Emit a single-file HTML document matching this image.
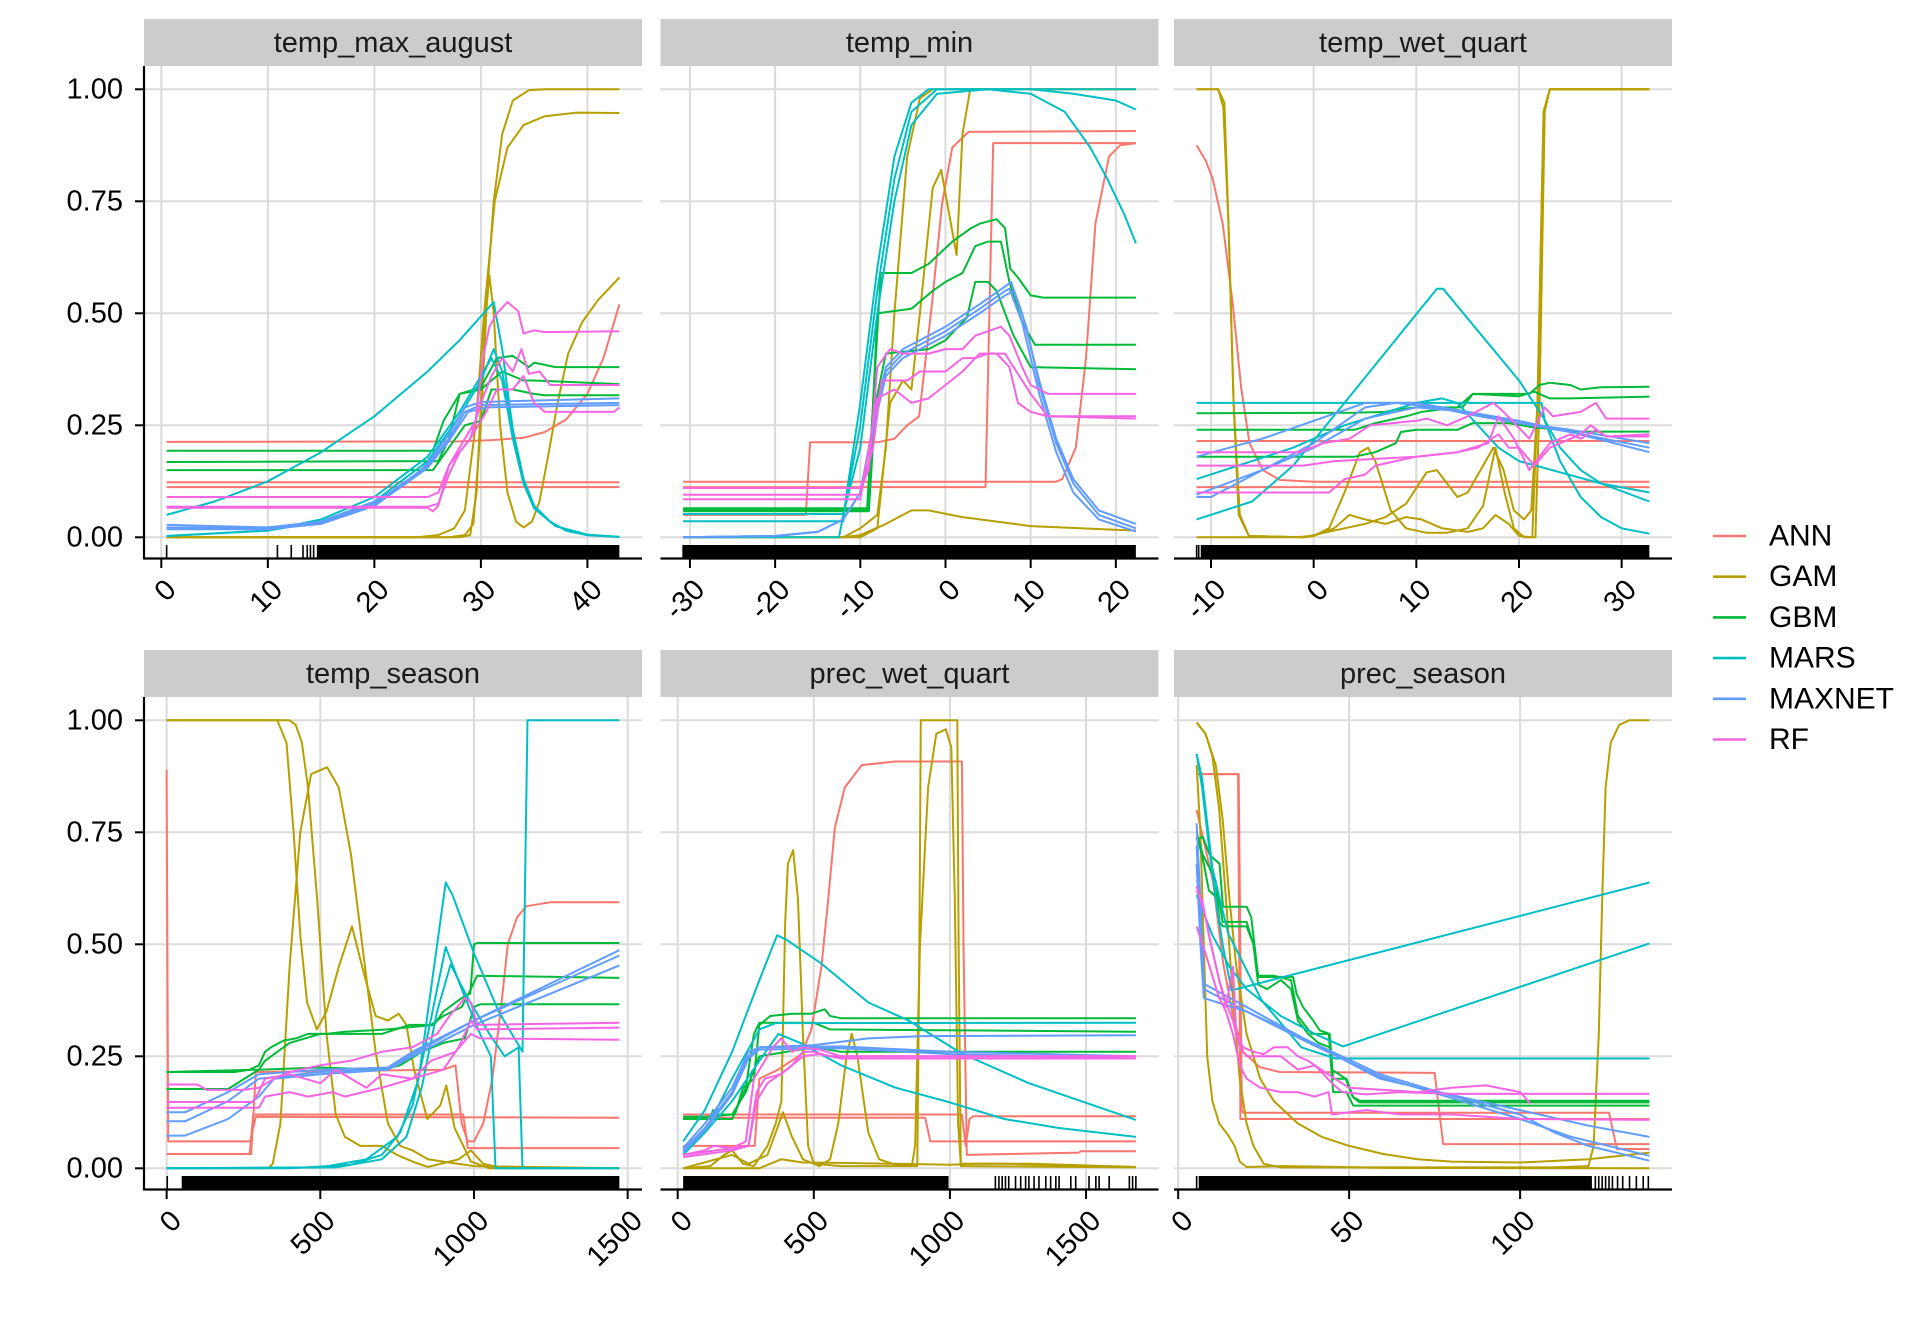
<!DOCTYPE html>
<html><head><meta charset="utf-8"><style>
html,body{margin:0;padding:0;background:#fff;}
svg{display:block;font-family:"Liberation Sans",Arial,sans-serif;}
</style></head><body>
<svg id="chart" width="1920" height="1344" viewBox="0 0 1920 1344" xmlns="http://www.w3.org/2000/svg">
<rect x="0" y="0" width="1920" height="1344" fill="#ffffff"/>
<g id="legend"></g>
</svg>
<script>
// ---------- data ----------
const MODELS = ["ANN","GAM","GBM","MARS","MAXNET","RF"];
const COLORS = ["#F8766D","#B79F00","#00BA38","#00BFC4","#619CFF","#F564E3"];
const Y_TICKS = [0,0.25,0.5,0.75,1];
const Y_LABELS = ["0.00","0.25","0.50","0.75","1.00"];

const P1_NAME = "temp_max_august";
const P1_RANGE = [0.5,43];
const P1_TICKS = [0,10,20,30,40];
const P1_RUG_DENSE = [14.6,43];
const P1_RUG = [0.5,10.9,12.2,13.3,13.7,14.0,14.3];
const P1_ANN = [[[0.5,0.213],[28,0.214],[31,0.217],[34,0.222],[36,0.235],[38,0.263],[40,0.32],[41.5,0.4],[43,0.52]],[[0.5,0.123],[43,0.123]],[[0.5,0.112],[43,0.112]]];
const P1_GAM = [[[0.5,0],[27,0],[28.5,0.005],[29.3,0.03],[30,0.25],[30.6,0.55],[31.2,0.75],[32,0.9],[33,0.975],[34.5,0.998],[36,1],[43,1]],
[[0.5,0],[24,0],[26,0.005],[27.5,0.02],[28.5,0.06],[29.5,0.25],[30.3,0.5],[31.3,0.75],[32.5,0.87],[34,0.92],[36,0.94],[39,0.948],[43,0.947]],
[[0.5,0],[28,0],[29,0.005],[29.6,0.1],[30.3,0.45],[30.8,0.585],[31.2,0.5],[31.8,0.25],[32.5,0.1],[33.3,0.035],[34,0.022],[34.8,0.035],[35.5,0.08],[36.3,0.18],[37.2,0.3],[38.2,0.41],[39.5,0.48],[41,0.53],[43,0.58]]];
const P1_GBM = [[[0.5,0.193],[25.5,0.193],[26.5,0.26],[28,0.32],[30,0.335],[31.5,0.4],[33,0.405],[34.5,0.38],[35,0.39],[37,0.38],[43,0.38]],
[[0.5,0.168],[26,0.17],[27,0.22],[28,0.32],[30,0.33],[32,0.37],[34,0.35],[35,0.35],[43,0.342]],
[[0.5,0.15],[25.5,0.15],[27,0.2],[28.5,0.25],[30,0.26],[31,0.33],[33,0.33],[35,0.32],[36,0.317],[43,0.317]]];
const P1_MARS = [[[0.5,0.05],[5,0.08],[10,0.125],[15,0.19],[20,0.27],[25,0.37],[28,0.44],[31.2,0.525],[32,0.42],[33,0.24],[34,0.13],[35,0.07],[36.5,0.035],[38,0.015],[40,0.005],[43,0.001]],
[[0.5,0.003],[10,0.015],[15,0.035],[20,0.08],[25,0.17],[28,0.27],[30,0.35],[31.2,0.42],[32,0.37],[33,0.24],[34,0.13],[35,0.07],[36.5,0.035],[38,0.015],[40,0.005],[43,0.001]],
[[0.5,0.003],[10,0.015],[15,0.04],[20,0.09],[25,0.18],[28,0.28],[30,0.36],[31,0.4],[32,0.35],[33,0.22],[34,0.12],[35,0.065],[37,0.025],[40,0.006],[43,0.001]]];
const P1_MAXNET = [[[0.5,0.028],[5,0.025],[10,0.022],[15,0.035],[20,0.08],[23,0.12],[25,0.165],[27,0.23],[28.5,0.29],[30,0.302],[43,0.31]],
[[0.5,0.022],[10,0.02],[15,0.032],[20,0.075],[25,0.16],[27,0.22],[28.5,0.28],[30,0.295],[43,0.3]],
[[0.5,0.018],[10,0.018],[15,0.03],[20,0.07],[25,0.155],[27,0.215],[28.8,0.28],[30.5,0.29],[43,0.295]]];
const P1_RF = [[[0.5,0.09],[25,0.09],[26,0.1],[27,0.16],[28,0.2],[29.5,0.26],[30.2,0.4],[30.8,0.47],[31.5,0.5],[32.5,0.525],[33.5,0.505],[34,0.455],[35,0.462],[36,0.458],[43,0.46]],
[[0.5,0.068],[25,0.068],[26,0.075],[27,0.14],[28,0.19],[29,0.22],[30,0.3],[31,0.36],[32,0.4],[33,0.37],[33.8,0.42],[34.5,0.365],[35.5,0.37],[36.5,0.34],[43,0.34]],
[[0.5,0.066],[25,0.066],[25.5,0.058],[26,0.07],[27,0.16],[29,0.22],[30.5,0.28],[31.5,0.33],[33,0.33],[34,0.36],[35,0.3],[36,0.28],[42.5,0.28],[43,0.29]]];

const P2_NAME = "temp_min";
const P2_RANGE = [-30.8,22.35];
const P2_TICKS = [-30,-20,-10,0,10,20];
const P2_RUG_DENSE = [-30.8,22.35];
const P2_RUG = [-30.8];
const P2_ANN = [[[-30.8,0.05],[-16.4,0.05],[-15.9,0.212],[-8,0.212],[-6,0.22],[-4.5,0.25],[-3.1,0.27],[-1.6,0.52],[-0.4,0.745],[0.8,0.87],[2.7,0.905],[22.35,0.907]],
[[-30.8,0.124],[13,0.124],[13.7,0.13],[15.3,0.2],[16.5,0.4],[17.6,0.7],[19.2,0.85],[20.5,0.875],[22.35,0.88]],
[[-30.8,0.112],[4.7,0.112],[5.6,0.88],[22.35,0.88]]];
const P2_GAM = [[[-30.8,0],[-12,0],[-10,0.02],[-8,0.05],[-7,0.2],[-6,0.5],[-4.5,0.85],[-3,0.98],[-1.5,1],[22.35,1]],
[[-30.8,0],[-10,0],[-8,0.02],[-6.5,0.3],[-5,0.35],[-4,0.33],[-3,0.5],[-1.5,0.78],[-0.5,0.82],[1.3,0.63],[2,0.9],[2.9,1],[22.35,1]],
[[-30.8,0],[-12,0],[-10,0.005],[-7,0.03],[-4,0.06],[-2,0.06],[2,0.045],[10,0.025],[22.35,0.015]]];
const P2_GBM = [[[-30.8,0.065],[-9.2,0.065],[-8.5,0.3],[-7.6,0.59],[-4,0.59],[-2,0.61],[0.8,0.66],[3,0.69],[4,0.7],[6,0.71],[7,0.69],[7.6,0.6],[8.5,0.58],[10,0.54],[11.5,0.535],[22.35,0.535]],
[[-30.8,0.062],[-9,0.062],[-8.5,0.3],[-8,0.5],[-4,0.51],[-1.5,0.55],[0,0.57],[2,0.59],[3.5,0.65],[5,0.66],[6.5,0.66],[7.5,0.57],[9,0.48],[10.5,0.43],[22.35,0.43]],
[[-30.8,0.058],[-9,0.058],[-8.2,0.3],[-7,0.41],[-2,0.42],[0,0.44],[1,0.46],[2.5,0.49],[3.5,0.57],[5,0.57],[6,0.55],[8,0.45],[10,0.38],[22.35,0.375]]];
const P2_MARS = [[[-30.8,0.036],[-12,0.036],[-11.6,0.1],[-10,0.3],[-8,0.6],[-6,0.85],[-4,0.97],[-2,1],[22.35,1]],
[[-30.8,0],[-12.5,0],[-10,0.25],[-8,0.55],[-6,0.8],[-4,0.95],[-1,1],[10,1],[15,0.99],[20,0.975],[22.35,0.955]],
[[-30.8,0.052],[-12,0.052],[-10,0.2],[-8,0.5],[-6,0.75],[-4,0.92],[-1,0.99],[5,1],[10,0.99],[14,0.95],[17,0.87],[19,0.8],[21,0.72],[22.35,0.656]]];
const P2_MAXNET = [[[-30.8,0],[-20,0.003],[-15,0.012],[-12,0.04],[-10,0.1],[-8,0.3],[-7,0.38],[-5,0.42],[0,0.47],[4,0.52],[7,0.56],[7.7,0.57],[9,0.5],[11,0.35],[13,0.22],[15,0.13],[18,0.06],[22.35,0.03]],
[[-30.8,0],[-20,0.003],[-15,0.012],[-12,0.04],[-10,0.1],[-8,0.29],[-7,0.37],[-5,0.41],[0,0.46],[4,0.51],[7,0.55],[7.5,0.555],[9,0.48],[11,0.32],[13,0.19],[15,0.1],[18,0.04],[22.35,0.013]],
[[-30.8,0],[-20,0.003],[-15,0.012],[-12,0.04],[-10,0.1],[-8,0.28],[-7,0.36],[-5,0.4],[0,0.45],[4,0.5],[7,0.54],[8,0.55],[9.5,0.47],[11,0.34],[13,0.21],[15,0.12],[18,0.05],[22.35,0.02]]];
const P2_RF = [[[-30.8,0.11],[-10,0.11],[-9,0.15],[-8,0.38],[-6.5,0.42],[-5,0.41],[-2,0.41],[0,0.42],[2,0.42],[3.5,0.45],[5,0.46],[6.5,0.47],[7.5,0.45],[9,0.38],[10,0.34],[12,0.32],[22.35,0.32]],
[[-30.8,0.095],[-10,0.095],[-8.5,0.2],[-7.5,0.35],[-6,0.35],[-4.5,0.35],[-3,0.37],[0,0.37],[2,0.4],[3.5,0.4],[5,0.41],[7,0.41],[8,0.38],[10,0.32],[12,0.27],[22.35,0.27]],
[[-30.8,0.085],[-10,0.085],[-8,0.31],[-6,0.33],[-4,0.3],[-2,0.31],[0,0.34],[2,0.37],[4,0.41],[6,0.41],[7.5,0.38],[8.5,0.3],[10,0.28],[12,0.27],[22.35,0.265]]];

const P3_NAME = "temp_wet_quart";
const P3_RANGE = [-11.4,32.7];
const P3_TICKS = [-10,0,10,20,30];
const P3_RUG_DENSE = [-11.0,32.7];
const P3_RUG = [-11.4,-11.2];
const P3_ANN = [[[-11.4,0.875],[-10.5,0.84],[-9.84,0.8],[-8.86,0.7],[-7.88,0.52],[-7.07,0.335],[-6.25,0.21],[-4.95,0.15],[-3.3,0.128],[0,0.124],[32.7,0.124]],[[-11.4,0.215],[32.7,0.215]],[[-11.4,0.112],[32.7,0.112]]];
const P3_GAM = [[[-11.4,1],[-9.3,1],[-8.8,0.96],[-8.3,0.7],[-7.8,0.3],[-7.2,0.05],[-6.3,0.003],[-1,0],[0,0.003],[1.5,0.02],[3,0.1],[4.5,0.19],[5.3,0.2],[6,0.17],[7.5,0.06],[9,0.02],[11,0.01],[13,0.01],[15,0.02],[16.5,0.07],[17.7,0.2],[18.6,0.1],[19.5,0.02],[20.5,0],[21.6,0],[22,0.3],[22.5,0.95],[23,1],[32.7,1]],
[[-11.4,1],[-9.3,1],[-8.7,0.97],[-8.3,0.7],[-7.8,0.3],[-7.3,0.05],[-6.3,0.003],[-1,0],[1,0.01],[3,0.02],[5,0.03],[7,0.045],[9,0.075],[11,0.145],[12,0.15],[13,0.12],[14,0.09],[15,0.1],[16.5,0.16],[17.5,0.2],[18.5,0.15],[19.5,0.06],[20.5,0.04],[21.2,0.06],[21.8,0.3],[22.4,0.95],[23,1],[32.7,1]],
[[-11.4,0],[-2,0],[0,0.003],[2,0.02],[3.5,0.05],[5,0.04],[7,0.03],[9,0.045],[10.5,0.04],[12.5,0.02],[15,0.012],[16.5,0.02],[17.7,0.05],[19,0.03],[20,0.003],[21.3,0],[21.8,0.3],[22.4,0.95],[23,1],[32.7,1]]];
const P3_GBM = [[[-11.4,0.277],[4,0.278],[7,0.28],[8,0.285],[10,0.29],[13,0.29],[14.5,0.29],[15.5,0.32],[20,0.32],[21,0.32],[22,0.34],[23,0.345],[25,0.34],[26,0.33],[28,0.335],[32.7,0.336]],
[[-11.4,0.24],[4,0.24],[6,0.255],[9,0.27],[10.5,0.28],[14,0.29],[15.5,0.32],[20,0.315],[21.5,0.325],[23,0.31],[25,0.31],[32.7,0.314]],
[[-11.4,0.18],[4,0.18],[6,0.19],[8,0.21],[8.5,0.235],[10,0.24],[14,0.24],[15.5,0.255],[19,0.255],[21.5,0.245],[24,0.24],[26,0.236],[32.7,0.236]]];
const P3_MARS = [[[-11.4,0.3],[22.2,0.3],[22.5,0.26],[24,0.17],[26,0.09],[28,0.045],[30,0.02],[32.7,0.008]],
[[-11.4,0.04],[-6,0.08],[-2,0.16],[3,0.3],[12,0.555],[12.6,0.555],[20,0.35],[22.3,0.27],[24,0.2],[26,0.15],[28,0.12],[32.7,0.08]],
[[-11.4,0.13],[-2,0.2],[3,0.25],[10,0.3],[12.5,0.31],[14,0.3],[16,0.25],[18,0.2],[20,0.17],[24,0.145],[28,0.12],[32.7,0.1]]];
const P3_MAXNET = [[[-11.4,0.18],[-5,0.22],[0,0.26],[5,0.3],[10,0.3],[15,0.28],[20,0.255],[25,0.235],[32.7,0.2]],
[[-11.4,0.09],[-10,0.09],[-5,0.15],[0,0.21],[5,0.29],[8,0.3],[12,0.29],[15,0.275],[20,0.255],[25,0.24],[32.7,0.21]],
[[-11.4,0.095],[-5,0.15],[0,0.2],[5,0.265],[10,0.29],[15,0.28],[20,0.26],[25,0.235],[32.7,0.19]]];
const P3_RF = [[[-11.4,0.19],[-1.5,0.19],[1,0.21],[3.5,0.22],[5.5,0.25],[10,0.26],[11,0.265],[13,0.25],[15,0.27],[17.5,0.3],[18.5,0.28],[21,0.22],[22.5,0.29],[23.3,0.27],[26,0.28],[27.5,0.3],[28.5,0.265],[32.7,0.265]],
[[-11.4,0.16],[-1,0.16],[2,0.17],[6,0.175],[10,0.18],[14,0.19],[17,0.21],[18,0.27],[19.5,0.22],[21,0.15],[22,0.18],[23,0.21],[25,0.23],[26,0.22],[27.5,0.24],[28.5,0.225],[32.7,0.225]],
[[-11.4,0.1],[1.5,0.1],[3,0.13],[5,0.14],[6,0.16],[10,0.18],[14,0.19],[16,0.2],[18,0.23],[19,0.2],[20,0.2],[21.5,0.16],[23,0.2],[26,0.23],[27,0.25],[28.5,0.225],[32.7,0.23]]];

const P4_NAME = "temp_season";
const P4_RANGE = [0,1473];
const P4_TICKS = [0,500,1000,1500];
const P4_RUG_DENSE = [49,1473];
const P4_RUG = [2];
const P4_ANN = [[[0,0.89],[5,0.06],[272,0.06],[290,0.115],[1473,0.113]],
[[0,0.032],[270,0.032],[282,0.12],[965,0.12],[980,0.045],[1473,0.045]],
[[0,0.032],[275,0.032],[290,0.215],[900,0.22],[940,0.23],[960,0.1],[980,0.06],[1000,0.06],[1030,0.1],[1060,0.2],[1090,0.37],[1110,0.5],[1140,0.56],[1170,0.585],[1250,0.594],[1473,0.594]]];
const P4_GAM = [[[0,1],[360,1],[390,0.95],[413,0.75],[435,0.52],[457,0.37],[489,0.31],[520,0.35],[560,0.45],[603,0.54],[640,0.44],[680,0.34],[720,0.33],[755,0.345],[780,0.32],[805,0.22],[848,0.11],[890,0.14],[910,0.185],[937,0.09],[990,0.015],[1050,0],[1473,0]],
[[0,0],[330,0],[345,0.01],[370,0.1],[400,0.45],[435,0.75],[470,0.88],[522,0.895],[560,0.85],[600,0.7],[640,0.48],[680,0.26],[720,0.1],[760,0.05],[800,0.04],[850,0.02],[900,0.015],[1000,0.005],[1473,0]],
[[0,1],[400,1],[420,0.99],[440,0.95],[460,0.85],[490,0.6],[520,0.3],[550,0.12],[580,0.07],[630,0.05],[700,0.05],[750,0.03],[800,0.015],[850,0.003],[950,0.02],[990,0.04],[1030,0.01],[1100,0],[1473,0]]];
const P4_GBM = [[[0,0.215],[220,0.215],[270,0.22],[300,0.23],[320,0.26],[340,0.27],[380,0.285],[420,0.29],[460,0.3],[520,0.3],[580,0.305],[720,0.31],[870,0.32],[900,0.35],[960,0.38],[988,0.39],[1000,0.5],[1010,0.503],[1473,0.503]],
[[0,0.215],[300,0.22],[320,0.24],[340,0.25],[400,0.28],[500,0.3],[700,0.3],[790,0.32],[860,0.32],[900,0.34],[960,0.36],[990,0.4],[1010,0.43],[1473,0.425]],
[[0,0.177],[200,0.177],[300,0.22],[500,0.225],[700,0.22],[760,0.23],[830,0.26],[900,0.28],[970,0.29],[1000,0.36],[1020,0.366],[1473,0.366]]];
const P4_MARS = [[[0,0],[400,0],[600,0.008],[700,0.03],[760,0.08],[820,0.2],[860,0.4],[908,0.638],[930,0.61],[1000,0.48],[1080,0.35],[1158,0.26],[1174,1],[1473,1]],
[[0,0],[500,0.002],[650,0.02],[750,0.07],[800,0.14],[850,0.3],[908,0.494],[960,0.4],[1020,0.3],[1055,0.25],[1070,0],[1473,0]],
[[0,0],[550,0.002],[700,0.02],[780,0.07],[830,0.18],[880,0.35],[924,0.455],[980,0.38],[1050,0.3],[1100,0.25],[1145,0.27],[1158,0],[1473,0]]];
const P4_MAXNET = [[[0,0.125],[60,0.125],[200,0.17],[300,0.21],[500,0.22],[720,0.225],[800,0.26],[1000,0.33],[1473,0.487]],
[[0,0.105],[60,0.105],[200,0.15],[300,0.2],[500,0.215],[720,0.22],[800,0.255],[1000,0.33],[1473,0.475]],
[[0,0.073],[60,0.073],[200,0.11],[300,0.16],[350,0.2],[500,0.21],[720,0.22],[800,0.25],[1000,0.32],[1473,0.453]]];
const P4_RF = [[[0,0.187],[100,0.187],[130,0.175],[250,0.175],[300,0.18],[350,0.2],[400,0.215],[500,0.23],[600,0.24],[700,0.26],[800,0.27],[880,0.3],[920,0.34],[970,0.38],[990,0.37],[1010,0.32],[1473,0.325]],
[[0,0.148],[280,0.148],[300,0.17],[320,0.2],[400,0.21],[450,0.2],[500,0.19],[550,0.22],[650,0.18],[700,0.21],[800,0.2],[850,0.21],[900,0.22],[950,0.27],[990,0.33],[1010,0.31],[1473,0.314]],
[[0,0.135],[300,0.135],[320,0.16],[400,0.17],[460,0.16],[540,0.17],[580,0.16],[640,0.17],[700,0.18],[800,0.2],[860,0.24],[940,0.26],[990,0.3],[1020,0.29],[1473,0.287]]];

const P5_NAME = "prec_wet_quart";
const P5_RANGE = [20,1683];
const P5_TICKS = [0,500,1000,1500];
const P5_RUG_DENSE = [20,995];
const P5_RUG = [1167,1180,1192,1204,1216,1241,1260,1278,1290,1309,1327,1352,1370,1389,1401,1444,1462,1511,1536,1548,1585,1659,1671,1683];
const P5_ANN = [[[20,0.05],[283,0.05],[300,0.2],[369,0.22],[455,0.255],[491,0.31],[528,0.45],[553,0.6],[577,0.76],[614,0.85],[676,0.9],[799,0.908],[1044,0.908],[1050,0.5],[1062,0.03],[1474,0.035],[1480,0.038],[1683,0.038]],
[[20,0.12],[1044,0.12],[1058,0.05],[1072,0.11],[1085,0.116],[1683,0.116]],
[[20,0.113],[909,0.113],[928,0.06],[1683,0.06]]];
const P5_GAM = [[[20,0],[120,0.005],[170,0.03],[200,0.04],[240,0.01],[280,0.005],[330,0.05],[360,0.1],[381,0.15],[395,0.55],[405,0.68],[424,0.71],[442,0.6],[460,0.3],[479,0.05],[500,0.01],[600,0.005],[880,0.005],[888,0.5],[893,1],[1027,1],[1032,0.5],[1040,0.005],[1683,0.002]],
[[20,0],[200,0.03],[260,0.01],[330,0.03],[360,0.08],[387,0.125],[420,0.07],[460,0.02],[520,0.005],[560,0.02],[590,0.1],[620,0.25],[639,0.3],[660,0.25],[700,0.08],[740,0.02],[800,0.008],[860,0.005],[872,0.05],[890,0.5],[920,0.85],[950,0.97],[985,0.98],[1005,0.94],[1018,0.6],[1030,0.1],[1040,0.01],[1200,0.01],[1683,0.003]],
[[20,0],[300,0],[380,0.02],[460,0.013],[600,0.012],[800,0.01],[1000,0.008],[1100,0.01],[1300,0.01],[1683,0.003]]];
const P5_GBM = [[[20,0.115],[120,0.115],[130,0.13],[150,0.12],[210,0.12],[240,0.18],[280,0.2],[300,0.32],[340,0.34],[420,0.345],[490,0.345],[540,0.355],[560,0.34],[600,0.335],[1683,0.335]],
[[20,0.11],[200,0.11],[250,0.18],[280,0.3],[300,0.325],[400,0.325],[500,0.325],[560,0.31],[1683,0.305]],
[[20,0.11],[200,0.12],[250,0.17],[280,0.22],[300,0.25],[400,0.26],[500,0.27],[600,0.26],[1683,0.26]]];
const P5_MARS = [[[20,0.06],[100,0.13],[200,0.26],[300,0.42],[365,0.52],[400,0.51],[528,0.457],[700,0.37],[848,0.33],[1044,0.256],[1290,0.19],[1683,0.108]],
[[20,0.03],[100,0.08],[200,0.2],[300,0.31],[360,0.324],[1683,0.325]],
[[20,0.04],[100,0.08],[200,0.15],[300,0.24],[370,0.3],[450,0.28],[600,0.23],[800,0.18],[983,0.15],[1200,0.11],[1400,0.09],[1683,0.07]]];
const P5_MAXNET = [[[20,0.045],[100,0.1],[200,0.18],[260,0.26],[300,0.27],[500,0.275],[700,0.29],[900,0.295],[1683,0.297]],
[[20,0.04],[100,0.09],[200,0.17],[260,0.25],[300,0.27],[600,0.272],[1000,0.26],[1683,0.25]],
[[20,0.035],[100,0.085],[200,0.165],[260,0.245],[300,0.265],[600,0.268],[1000,0.255],[1683,0.245]]];
const P5_RF = [[[20,0.03],[100,0.04],[130,0.05],[200,0.045],[250,0.06],[280,0.2],[320,0.24],[350,0.27],[380,0.29],[420,0.26],[460,0.27],[520,0.265],[600,0.25],[1000,0.25],[1683,0.25]],
[[20,0.03],[200,0.045],[260,0.05],[290,0.17],[320,0.2],[380,0.21],[420,0.23],[460,0.26],[500,0.26],[560,0.25],[1683,0.25]],
[[20,0.025],[200,0.04],[260,0.05],[290,0.15],[330,0.19],[400,0.22],[460,0.25],[520,0.255],[600,0.245],[1683,0.245]]];

const P6_NAME = "prec_season";
const P6_RANGE = [5.4,137.8];
const P6_TICKS = [0,50,100];
const P6_RUG_DENSE = [6,121];
const P6_RUG = [5.4,122,123,124,125,126,127,128.5,130,132,134,136,137.5];
const P6_ANN = [[[5.4,0.88],[17.5,0.88],[18.2,0.11],[137.8,0.11]],
[[5.4,0.8],[10.2,0.64],[13.1,0.46],[16,0.34],[19,0.26],[23.8,0.226],[29.7,0.215],[75,0.213],[77.5,0.054],[137.8,0.054]],
[[5.4,0.88],[17.7,0.88],[18.6,0.13],[19,0.124],[126,0.124],[128.3,0.043],[137.8,0.043]]];
const P6_GAM = [[[5.4,0.995],[8,0.97],[10,0.92],[12,0.8],[14,0.6],[16,0.38],[18,0.2],[20,0.1],[22,0.05],[25,0.01],[30,0.002],[110,0.002],[120,0.005],[121.5,0.05],[123,0.3],[124,0.6],[125,0.85],[126.5,0.95],[129,0.99],[132,1],[137.8,1]],
[[5.4,0.995],[8,0.97],[11,0.9],[13,0.78],[15,0.6],[17,0.45],[20,0.3],[24,0.2],[28,0.15],[35,0.1],[42,0.07],[50,0.05],[60,0.032],[70,0.02],[80,0.015],[100,0.013],[120,0.02],[137.8,0.035]],
[[5.4,0.9],[6.5,0.75],[7.5,0.5],[8.5,0.25],[10,0.15],[12,0.1],[14.5,0.075],[16.5,0.05],[18,0.015],[20,0.003],[30,0.005],[40,0.004],[60,0.001],[137.8,0]]];
const P6_GBM = [[[5.4,0.733],[7.2,0.74],[9.2,0.7],[12.1,0.68],[13.1,0.584],[20,0.584],[21.4,0.56],[23.4,0.427],[33.6,0.427],[34.6,0.39],[36.5,0.36],[39.5,0.33],[41.4,0.308],[44.3,0.3],[45.3,0.2],[49.2,0.2],[51.2,0.159],[53.1,0.151],[137.8,0.151]],
[[5.4,0.75],[7.2,0.7],[9.2,0.67],[11,0.64],[12.1,0.55],[13.1,0.54],[20,0.54],[22,0.5],[23.4,0.41],[26,0.4],[30,0.42],[33,0.4],[35,0.33],[38,0.3],[41,0.28],[44.3,0.27],[45.3,0.17],[49.2,0.17],[51.2,0.14],[53,0.14],[137.8,0.14]],
[[5.4,0.74],[7,0.7],[9,0.62],[12,0.6],[13,0.55],[20,0.55],[22,0.5],[23.4,0.43],[28,0.43],[33,0.42],[35,0.34],[39,0.3],[44,0.3],[45,0.22],[49,0.2],[51,0.16],[53,0.147],[137.8,0.147]]];
const P6_MARS = [[[5.4,0.925],[7,0.85],[9,0.72],[11,0.6],[13,0.5],[15.6,0.397],[137.8,0.638]],
[[5.4,0.925],[7,0.87],[10,0.67],[14.6,0.525],[24.4,0.375],[36,0.27],[46,0.245],[137.8,0.245]],
[[5.4,0.61],[10,0.52],[15,0.45],[20,0.4],[30,0.34],[40,0.3],[48.2,0.272],[137.8,0.502]]];
const P6_MAXNET = [[[5.4,0.77],[6.5,0.6],[7.5,0.412],[20,0.36],[39.5,0.278],[59,0.2],[78.5,0.166],[100,0.13],[120,0.095],[137.8,0.07]],
[[5.4,0.72],[6.5,0.55],[7.5,0.4],[20,0.35],[39.5,0.28],[59,0.21],[78.5,0.165],[100,0.12],[110,0.08],[120,0.05],[137.8,0.017]],
[[5.4,0.68],[6.5,0.5],[7.5,0.38],[20,0.35],[39.5,0.275],[59,0.205],[78.5,0.16],[100,0.11],[115,0.07],[137.8,0.028]]];
const P6_RF = [[[5.4,0.63],[8,0.56],[10.2,0.48],[12,0.42],[14,0.36],[16,0.45],[17,0.3],[19,0.27],[22,0.26],[25,0.255],[28,0.27],[32,0.27],[35,0.25],[38,0.24],[44.8,0.205],[50,0.18],[60,0.175],[70,0.17],[75,0.175],[80,0.18],[90,0.185],[100,0.17],[103,0.144]],
[[5.4,0.62],[7,0.6],[9,0.52],[12,0.42],[14,0.37],[16,0.33],[18,0.27],[20,0.25],[25,0.25],[30,0.25],[35,0.22],[40,0.23],[45,0.19],[48,0.17],[55,0.165],[65,0.17],[80,0.166],[137.8,0.166]],
[[5.4,0.54],[8,0.48],[12,0.38],[14,0.35],[16,0.3],[18,0.23],[20,0.2],[24,0.18],[30,0.17],[35,0.17],[40,0.16],[44,0.17],[45,0.12],[55,0.13],[65,0.12],[80,0.12],[100,0.11],[137.8,0.108]]];

// ---------- layout ----------
const COL_LEFT = [144, 660.5, 1174];
const PANEL_W = 498;
const ROW_OFF = [0, 631];
const PANELS = [
  {name:P1_NAME,col:0,row:0,range:P1_RANGE,ticks:P1_TICKS,dense:P1_RUG_DENSE,rug:P1_RUG,series:[P1_ANN,P1_GAM,P1_GBM,P1_MARS,P1_MAXNET,P1_RF]},
  {name:P2_NAME,col:1,row:0,range:P2_RANGE,ticks:P2_TICKS,dense:P2_RUG_DENSE,rug:P2_RUG,series:[P2_ANN,P2_GAM,P2_GBM,P2_MARS,P2_MAXNET,P2_RF]},
  {name:P3_NAME,col:2,row:0,range:P3_RANGE,ticks:P3_TICKS,dense:P3_RUG_DENSE,rug:P3_RUG,series:[P3_ANN,P3_GAM,P3_GBM,P3_MARS,P3_MAXNET,P3_RF]},
  {name:P4_NAME,col:0,row:1,range:P4_RANGE,ticks:P4_TICKS,dense:P4_RUG_DENSE,rug:P4_RUG,series:[P4_ANN,P4_GAM,P4_GBM,P4_MARS,P4_MAXNET,P4_RF]},
  {name:P5_NAME,col:1,row:1,range:P5_RANGE,ticks:P5_TICKS,dense:P5_RUG_DENSE,rug:P5_RUG,series:[P5_ANN,P5_GAM,P5_GBM,P5_MARS,P5_MAXNET,P5_RF]},
  {name:P6_NAME,col:2,row:1,range:P6_RANGE,ticks:P6_TICKS,dense:P6_RUG_DENSE,rug:P6_RUG,series:[P6_ANN,P6_GAM,P6_GBM,P6_MARS,P6_MAXNET,P6_RF]}
];

const NS = "http://www.w3.org/2000/svg";
const svg = document.getElementById("chart");
function mk(tag, attrs, parent){
  const e = document.createElementNS(NS, tag);
  for (const k in attrs) e.setAttribute(k, attrs[k]);
  (parent || svg).appendChild(e);
  return e;
}
function xScale(p){
  const lo = p.range[0], hi = p.range[1], span = hi - lo;
  const left = COL_LEFT[p.col];
  const a = lo - 0.05*span, w = 1.1*span;
  return v => left + (v - a) / w * PANEL_W;
}
function yScale(p){
  const off = ROW_OFF[p.row];
  const y0 = 537.3 + off, y1 = 89.3 + off;
  return v => y0 - v * (y0 - y1);
}

PANELS.forEach((p, pi) => {
  const X = xScale(p), Y = yScale(p);
  const left = COL_LEFT[p.col], off = ROW_OFF[p.row];
  const top = 66 + off, bottom = 559 + off;
  const g = mk("g", {});
  
  

  // strip
  const strip = mk("rect", {x:left, y:19+off, width:PANEL_W, height:47, fill:"#CCCCCC"}, g);
  
  
  const st = mk("text", {x:left+PANEL_W/2, y:43+off, "text-anchor":"middle", "dominant-baseline":"central", "font-size":"29", fill:"#1a1a1a"}, g);
  st.textContent = p.name;
  
  

  // grid
  Y_TICKS.forEach(t => {
    const gl = mk("line", {x1:left, x2:left+PANEL_W, y1:Y(t), y2:Y(t), stroke:"#DBDBDB", "stroke-width":"2"}, g);
    
    
  });
  p.ticks.forEach(t => {
    const gl = mk("line", {x1:X(t), x2:X(t), y1:top, y2:bottom, stroke:"#DBDBDB", "stroke-width":"2"}, g);
    
    
  });

  // series
  p.series.forEach((lines, mi) => {
    lines.forEach(pts => {
      const d = pts.map((q, i) => (i ? "L" : "M") + X(q[0]).toFixed(1) + " " + Y(q[1]).toFixed(1)).join(" ");
      const path = mk("path", {d:d, fill:"none", stroke:COLORS[mi], "stroke-width":"2", "stroke-linejoin":"round"}, g);
      
      
    });
  });

  // rug
  const rd = mk("rect", {x:X(p.dense[0]), y:545+off, width:X(p.dense[1])-X(p.dense[0]), height:13, fill:"#000"}, g);
  
  
  p.rug.forEach(v => {
    const r = mk("line", {x1:X(v), x2:X(v), y1:545+off, y2:558+off, stroke:"#000", "stroke-width":"1.6"}, g);
    
    
  });

  // x axis
  const xa = mk("line", {x1:left, x2:left+PANEL_W, y1:558.5+off, y2:558.5+off, stroke:"#000", "stroke-width":"2.2"}, g);
  
  
  p.ticks.forEach(t => {
    const tk = mk("line", {x1:X(t), x2:X(t), y1:558+off, y2:568+off, stroke:"#000", "stroke-width":"2"}, g);
    
    
    const ax = X(t) + 10, ay = 585 + off;
    const tl = mk("text", {x:ax, y:ay, "text-anchor":"end", "dominant-baseline":"central", "font-size":"29", fill:"#000", transform:"rotate(-45 " + ax + " " + ay + ")"}, g);
    tl.textContent = String(t);
    
    
  });

  // y axis (left column only)
  if (p.col === 0) {
    const ya = mk("line", {x1:left, x2:left, y1:top, y2:559.5+off, stroke:"#000", "stroke-width":"2.2"}, g);
    
    
    Y_TICKS.forEach((t, i) => {
      const tk = mk("line", {x1:left-9, x2:left, y1:Y(t), y2:Y(t), stroke:"#000", "stroke-width":"2"}, g);
      
      
      const tl = mk("text", {x:123, y:Y(t), "text-anchor":"end", "dominant-baseline":"central", "font-size":"29", fill:"#000"}, g);
      tl.textContent = Y_LABELS[i];
      
      
    });
  }
});

// legend
const legend = document.getElementById("legend");
svg.appendChild(legend);
MODELS.forEach((m, i) => {
  const y = 536 + i * 40.7;
  const eg = mk("g", {}, legend);
  
  
  const ln = mk("line", {x1:1713, x2:1746, y1:y, y2:y, stroke:COLORS[i], "stroke-width":"2.6"}, eg);
  
  
  const tx = mk("text", {x:1769, y:y, "dominant-baseline":"central", "font-size":"30", fill:"#000"}, eg);
  tx.textContent = m;
  
  
});
</script>
</body></html>
